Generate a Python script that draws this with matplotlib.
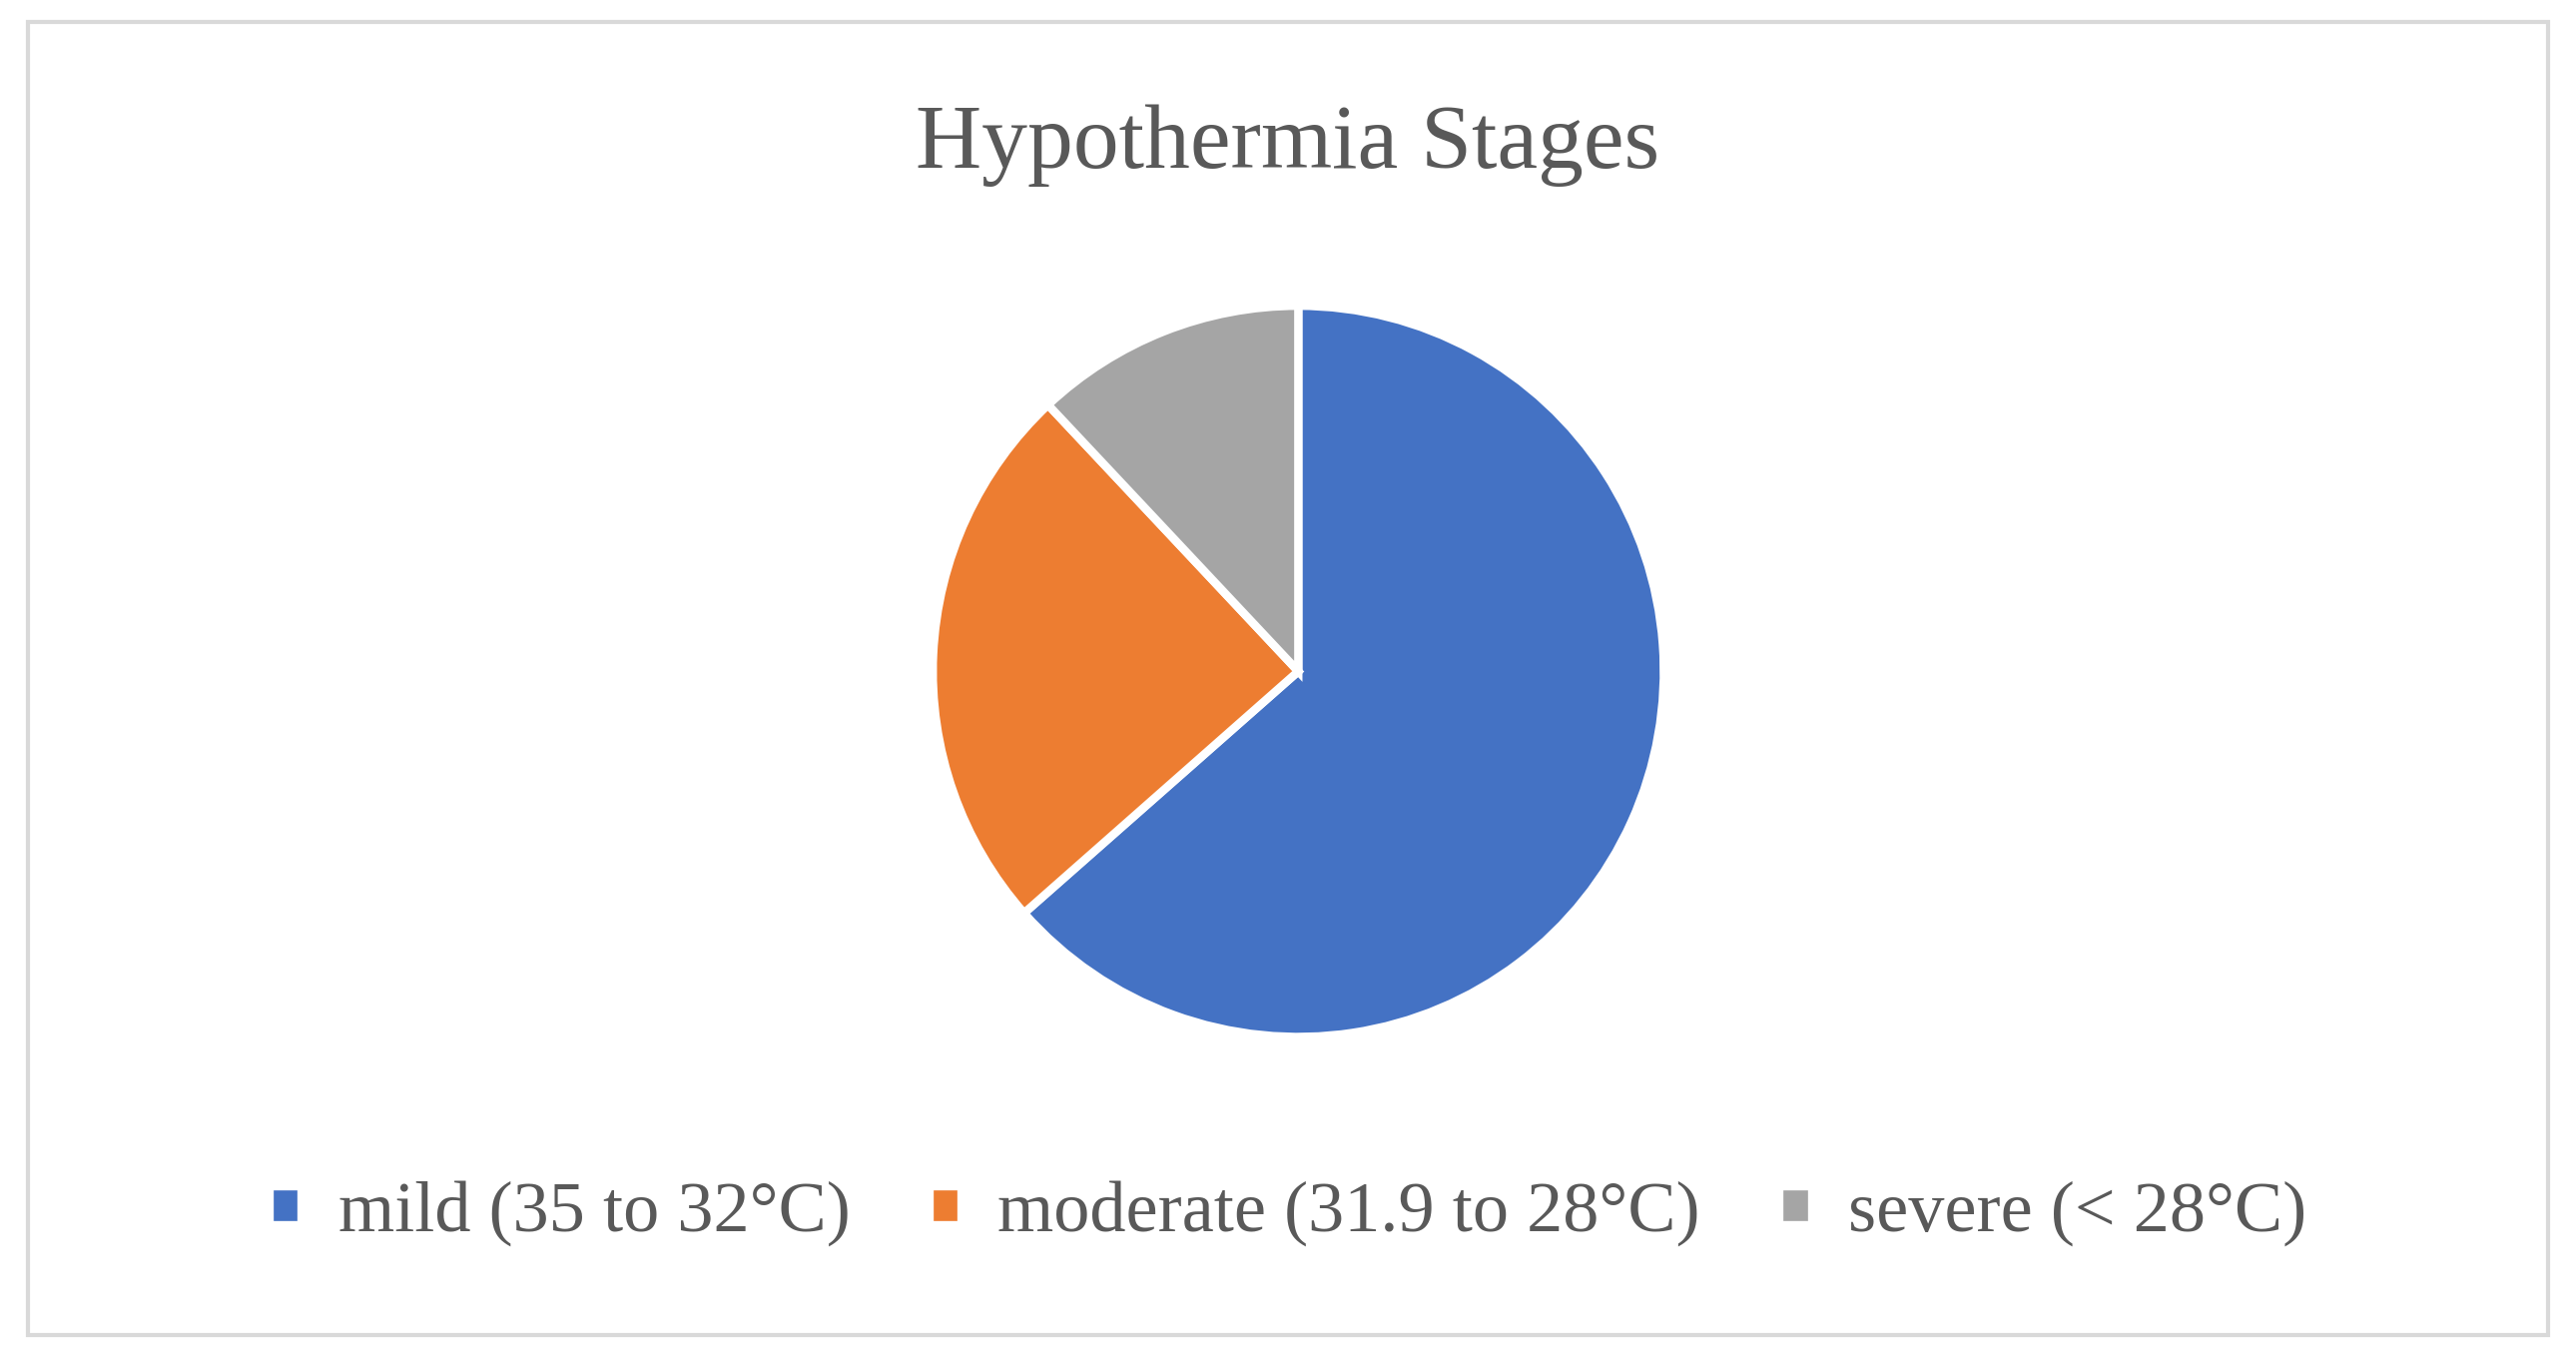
import matplotlib.pyplot as plt
from matplotlib.patches import Rectangle

labels = ['mild (35 to 32°C)', 'moderate (31.9 to 28°C)', 'severe (< 28°C)']
values = [63.5, 24.5, 12]
colors = ['#4472C4', '#ED7D31', '#A5A5A5']
text_col = '#595959'

plt.rcParams['font.family'] = ['Liberation Serif', 'DejaVu Serif']

fig = plt.figure(figsize=(25.8, 13.61), dpi=100)
fig.patches.append(Rectangle((0.011, 0.018), 0.978, 0.966, transform=fig.transFigure,
                             fill=False, edgecolor='#D9D9D9', linewidth=3))

h = 0.538
w = h * 1361 / 2580
ax = fig.add_axes([0.504 - w / 2, 0.506 - h / 2, w, h])
wedges, _ = ax.pie(values, colors=colors, startangle=90, counterclock=False,
                   wedgeprops=dict(edgecolor='white', linewidth=6))
ax.set_xlim(-1, 1)
ax.set_ylim(-1, 1)
ax.set_aspect('equal')

fig.text(0.5, 0.893, 'Hypothermia Stages', ha='center', va='center',
         fontsize=66, color=text_col)
fig.legend(wedges, labels, loc='center', bbox_to_anchor=(0.5, 0.107), ncol=3,
           frameon=False, fontsize=52, labelcolor=text_col, handlelength=0.45,
           handleheight=0.45, handletextpad=0.5, columnspacing=1.1)

fig.savefig('out.png', dpi=100)
